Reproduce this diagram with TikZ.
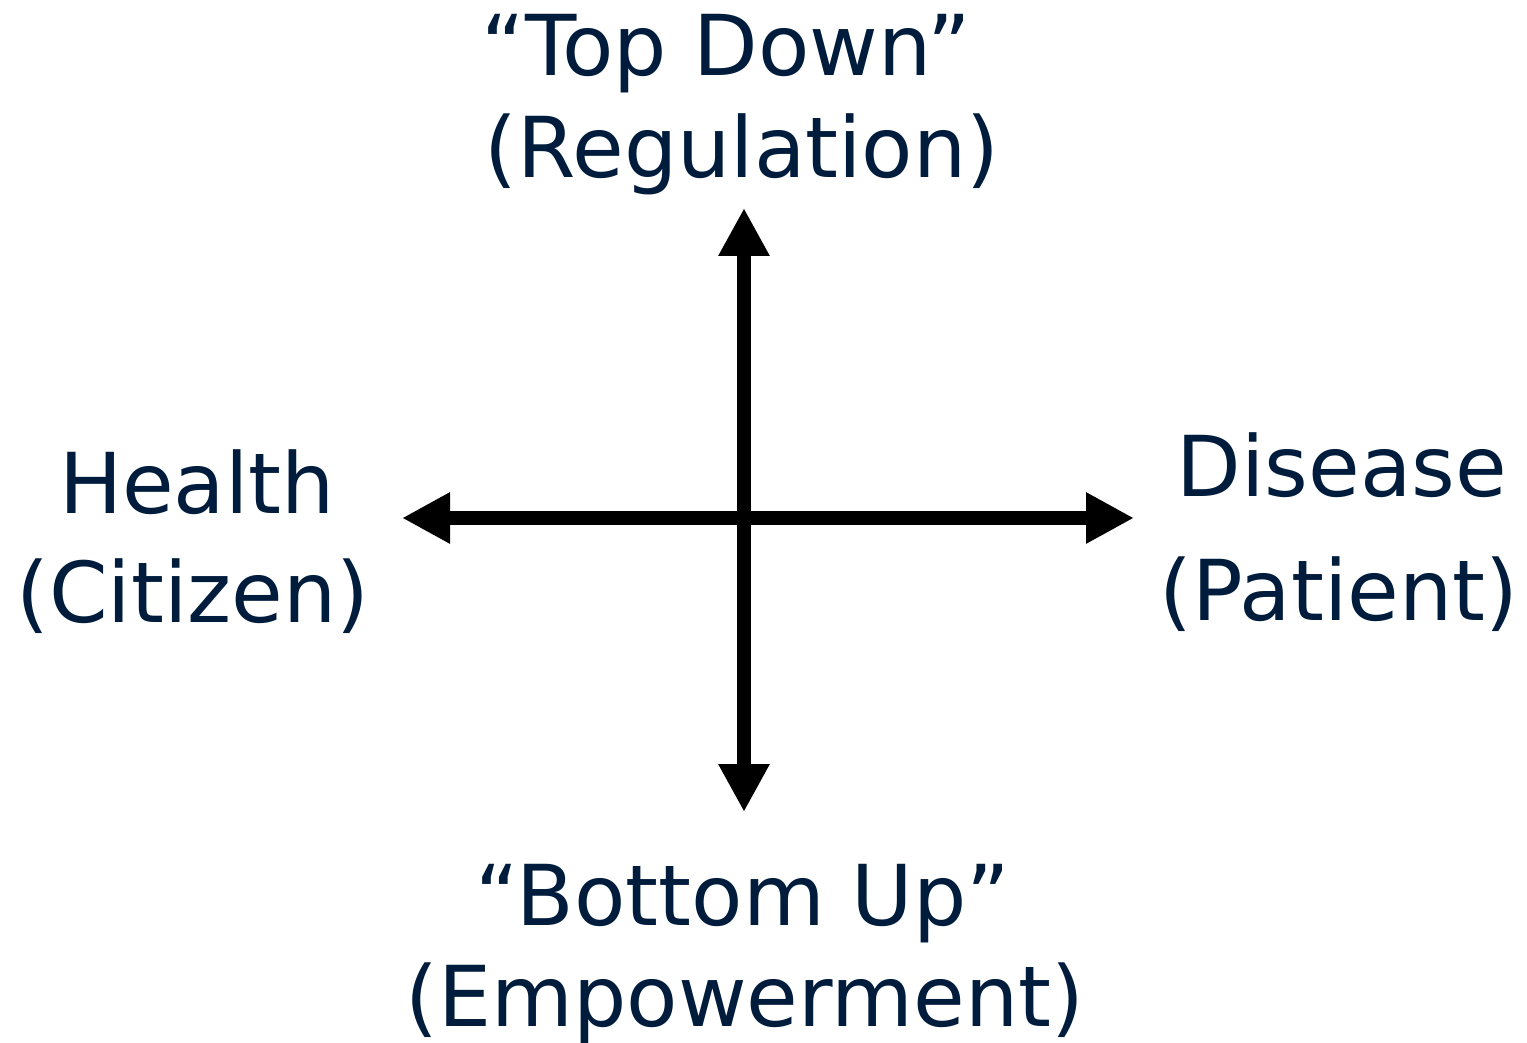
\documentclass[tikz,border=0pt]{standalone}
\usepackage{fontspec}
\setmainfont{DejaVu Sans}
\usetikzlibrary{arrows.meta}
\definecolor{navy}{HTML}{001C3C}
\begin{document}
\begin{tikzpicture}[x=1pt,y=-1pt,
  lbl/.style={anchor=base,inner sep=0pt,text=navy,font=\fontsize{84}{100}\selectfont},
  axis/.style={line width=14pt,-{Triangle[width=48pt,length=48pt]}}]
\useasboundingbox (0,0) rectangle (1527,1043);
% axis end points and centre
\coordinate (c) at (744,518);
\coordinate (up) at (744,208);
\coordinate (down) at (744,812);
\coordinate (left) at (402,518);
\coordinate (right) at (1134,518);
% axes
\draw[axis] (c) -- (up);
\draw[axis] (c) -- (down);
\draw[axis] (c) -- (left);
\draw[axis] (c) -- (right);
% labels
\node[lbl] (top1) at (726,76) {“Top Down”};
\node[lbl] (top2) at (742,178) {(Regulation)};
\node[lbl] (l1) at (197,513) {Health};
\node[lbl] (l2) at (193,622) {(Citizen)};
\node[lbl] (r1) at (1342,496) {Disease};
\node[lbl] (r2) at (1339,620) {(Patient)};
\node[lbl] (b1) at (743,925) {“Bottom Up”};
\node[lbl] (b2) at (745,1026) {(Empowerment)};
\end{tikzpicture}
\end{document}
